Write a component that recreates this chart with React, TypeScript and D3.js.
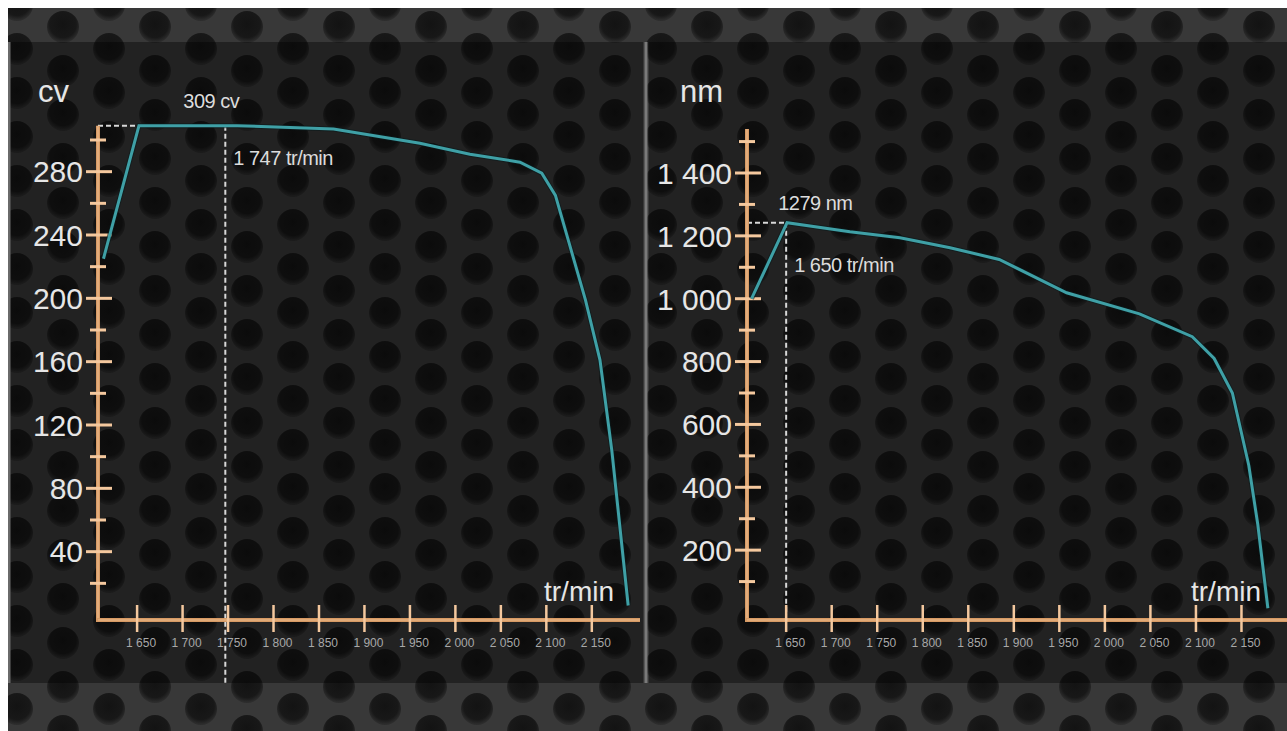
import { line, scaleLinear, curveLinear } from "d3";

const W = 1279;
const H = 723;

// x axis (rpm) shared by both panels
const rpmTicks = [1650, 1700, 1750, 1800, 1850, 1900, 1950, 2000, 2050, 2100, 2150];
const rpmTickLabels = ["1 650", "1 700", "1 750", "1 800", "1 850", "1 900", "1 950", "2 000", "2 050", "2 100", "2 150"];

// power curve (cv)
const powerRpm = [1613, 1652, 1760, 1866, 1961, 2016, 2071, 2095, 2110, 2125, 2143, 2159, 2172, 2190];
const powerCv = [225, 309, 309, 307, 298, 291, 286, 279, 265, 235, 199, 161, 104, 6];
const powerMajor = [40, 80, 120, 160, 200, 240, 280];
const powerMinor = [20, 60, 100, 140, 180, 220, 260, 300];

// torque curve (nm)
const torqueRpm = [1612, 1651, 1720, 1775, 1830, 1884, 1958, 2038, 2096, 2120, 2140, 2158, 2168, 2179];
const torqueNm = [1000, 1242, 1213, 1194, 1162, 1125, 1019, 952, 879, 810, 700, 470, 280, 15];
const torqueMajor = [200, 400, 600, 800, 1000, 1200, 1400];
const torqueMinor = [100, 300, 500, 700, 900, 1100, 1300, 1500];

const LINE = "#3fa0a6";
const AXIS = "#d79a64";
const TICK = "#f4c89e";
const TXT = "#e6e6e6";

type Panel = {
  rpm: number[];
  val: number[];
  xRange: [number, number];
  xDomain: [number, number];
  yDomain: [number, number];
  yRange: [number, number];
  yTop: number;
  major: number[];
  minor: number[];
  unit: string;
  unitX: number;
  peakRpm: number;
  peakText: string;
  rpmText: string;
  vLineBottom: number;
  fmt: (v: number) => string;
  peakTextDx: number;
  peakTextY: number;
  rpmTextY: number;
};

const fmtSpace = (v: number) => (v >= 1000 ? `${Math.floor(v / 1000)} ${String(v % 1000).padStart(3, "0")}` : String(v));

function Chart({ p }: { p: Panel }) {
  const x = scaleLinear().domain(p.xDomain).range(p.xRange);
  const y = scaleLinear().domain(p.yDomain).range(p.yRange);
  const axisX = p.xRange[0];
  const axisY = 620;
  const pts = p.rpm.map((r, i) => [r, p.val[i]] as [number, number]);
  const path = line<[number, number]>()
    .x((d) => x(d[0]))
    .y((d) => y(d[1]))
    .curve(curveLinear)(pts);
  const peakX = x(p.peakRpm);
  const maxVal = Math.max(...p.val);
  const maxIdx = p.val.indexOf(maxVal);
  const peakY = y(maxVal);
  const font = "'Liberation Sans', Arial, sans-serif";

  return (
    <g fontFamily={font}>
      {/* dashed guides */}
      <line x1={axisX} x2={x(p.rpm[maxIdx])} y1={peakY} y2={peakY} stroke="#d8d8d8" strokeWidth={2} strokeDasharray="5 3" />
      <line x1={peakX} x2={peakX} y1={peakY} y2={p.vLineBottom} stroke="#d8d8d8" strokeWidth={2} strokeDasharray="5 3" />

      {/* axes */}
      <line x1={axisX} x2={axisX} y1={axisY} y2={y(p.yTop)} stroke={AXIS} strokeWidth={4} />
      <line x1={axisX} x2={axisX} y1={axisY} y2={y(p.yTop)} stroke={TICK} strokeWidth={1.2} opacity={0.7} />
      <line x1={axisX - 2} x2={p.xRange[1]} y1={axisY} y2={axisY} stroke={AXIS} strokeWidth={4} />
      <line x1={axisX} x2={p.xRange[1]} y1={axisY} y2={axisY} stroke={TICK} strokeWidth={1.2} opacity={0.7} />

      {p.minor.map((v) => (
        <line key={`mi${v}`} x1={axisX - 8} x2={axisX + 8} y1={y(v)} y2={y(v)} stroke={TICK} strokeWidth={3} />
      ))}
      {p.major.map((v) => (
        <g key={`ma${v}`}>
          <line x1={axisX - 12} x2={axisX + 14} y1={y(v)} y2={y(v)} stroke={TICK} strokeWidth={3} />
          <text x={axisX - 15} y={y(v)} dy="0.36em" textAnchor="end" fontSize={30} fill={TXT}>
            {p.fmt(v)}
          </text>
        </g>
      ))}

      {rpmTicks.map((r, i) => (
        <g key={`xt${r}`}>
          <line x1={x(r)} x2={x(r)} y1={axisY - 15} y2={axisY + 12} stroke={TICK} strokeWidth={2.5} />
          <text x={x(r) + 4} y={647} textAnchor="middle" fontSize={12} fill="#a8a8a8">
            {rpmTickLabels[i]}
          </text>
        </g>
      ))}

      <path d={path ?? ""} fill="none" stroke="#0a1a1c" strokeWidth={5} opacity={0.6} />
      <path d={path ?? ""} fill="none" stroke={LINE} strokeWidth={3} />

      <text x={p.unitX} y={102} fontSize={31} fill={TXT}>
        {p.unit}
      </text>
      <text x={peakX + p.peakTextDx} y={p.peakTextY} fontSize={20} fill="#dcdcdc" letterSpacing={-0.5}>
        {p.peakText}
      </text>
      <text x={peakX + 8} y={p.rpmTextY} fontSize={20} fill="#dcdcdc" letterSpacing={-0.5}>
        {p.rpmText}
      </text>
      <text x={p.xRange[1] - 26} y={601} textAnchor="end" fontSize={28} fill={TXT}>
        tr/min
      </text>
    </g>
  );
}

export default function App() {
  const left: Panel = {
    rpm: powerRpm,
    val: powerCv,
    xRange: [98, 640],
    xDomain: [1607, 2203],
    yDomain: [0, 300],
    yRange: [615, 140],
    yTop: 309,
    major: powerMajor,
    minor: powerMinor,
    unit: "cv",
    unitX: 38,
    peakRpm: 1747,
    peakText: "309 cv",
    rpmText: "1 747 tr/min",
    vLineBottom: 683,
    fmt: (v) => String(v),
    peakTextDx: -42,
    peakTextY: 108,
    rpmTextY: 165,
  };
  const right: Panel = {
    rpm: torqueRpm,
    val: torqueNm,
    xRange: [747, 1287],
    xDomain: [1607, 2200],
    yDomain: [0, 1400],
    yRange: [613, 173],
    yTop: 1540,
    major: torqueMajor,
    minor: torqueMinor,
    unit: "nm",
    unitX: 680,
    peakRpm: 1650,
    peakText: "1279 nm",
    rpmText: "1 650 tr/min",
    vLineBottom: 615,
    fmt: fmtSpace,
    peakTextDx: -8,
    peakTextY: 210,
    rpmTextY: 272,
  };

  return (
    <svg
      width={W}
      height={H}
      viewBox={`8 8 ${W} ${H}`}
      style={{ position: "absolute", left: 8, top: 8, display: "block" }}
    >
      <defs>
        <radialGradient id="hole" cx="0.5" cy="0.42" r="0.55">
          <stop offset="0%" stopColor="#131313" />
          <stop offset="75%" stopColor="#181818" />
          <stop offset="100%" stopColor="#2c2c2c" />
        </radialGradient>
        <pattern id="mesh" patternUnits="userSpaceOnUse" x={40} y={16} width={92} height={44}>
          <rect width={92} height={44} fill="#383838" />
          <circle cx={23} cy={11} r={16} fill="url(#hole)" />
          <circle cx={23} cy={55} r={16} fill="url(#hole)" />
          <circle cx={23} cy={-33} r={16} fill="url(#hole)" />
          <circle cx={69} cy={33} r={16} fill="url(#hole)" />
          <circle cx={69} cy={-11} r={16} fill="url(#hole)" />
        </pattern>
      </defs>
      <rect x={8} y={8} width={W} height={H} fill="url(#mesh)" />
      <rect x={8} y={42} width={635} height={641} fill="#000" opacity={0.38} />
      <rect x={649} y={42} width={638} height={641} fill="#000" opacity={0.38} />
      <line x1={646} x2={646} y1={42} y2={683} stroke="#7a7a7a" strokeWidth={3} />
      <line x1={9} x2={9} y1={42} y2={683} stroke="#6a6a6a" strokeWidth={3} />
      <Chart p={left} />
      <Chart p={right} />
    </svg>
  );
}
